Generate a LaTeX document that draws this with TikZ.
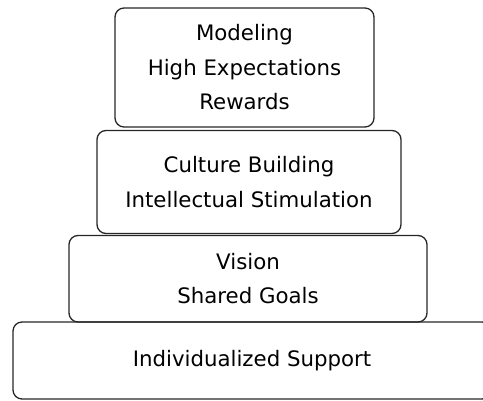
\documentclass[tikz,border=0pt]{standalone}
\usepackage{fontspec}
\setmainfont{DejaVu Sans}
\begin{document}
\begin{tikzpicture}[x=1pt,y=-1pt,
  tier/.style={draw=black!85, line width=1.3pt, rounded corners=9pt,
    inner sep=0pt, align=center, text=black,
    font=\fontsize{21.3}{34.5}\selectfont}]
\useasboundingbox (0,0) rectangle (483,401);
\clip (0,0) rectangle (483,401);
% base tier runs past the right edge
\node[tier, minimum width=478pt, minimum height=77pt] (base) at (252,360.5)
  {Individualized Support};
\node[tier, minimum width=358pt, minimum height=86.5pt] (vision) at (248,278.75)
  {Vision\\Shared Goals};
\node[tier, minimum width=304pt, minimum height=103pt] (culture) at (249,182)
  {Culture Building\\Intellectual Stimulation};
\node[tier, minimum width=259pt, minimum height=119pt] (top) at (244.5,67.5)
  {Modeling\\High Expectations\\Rewards};
\end{tikzpicture}
\end{document}
